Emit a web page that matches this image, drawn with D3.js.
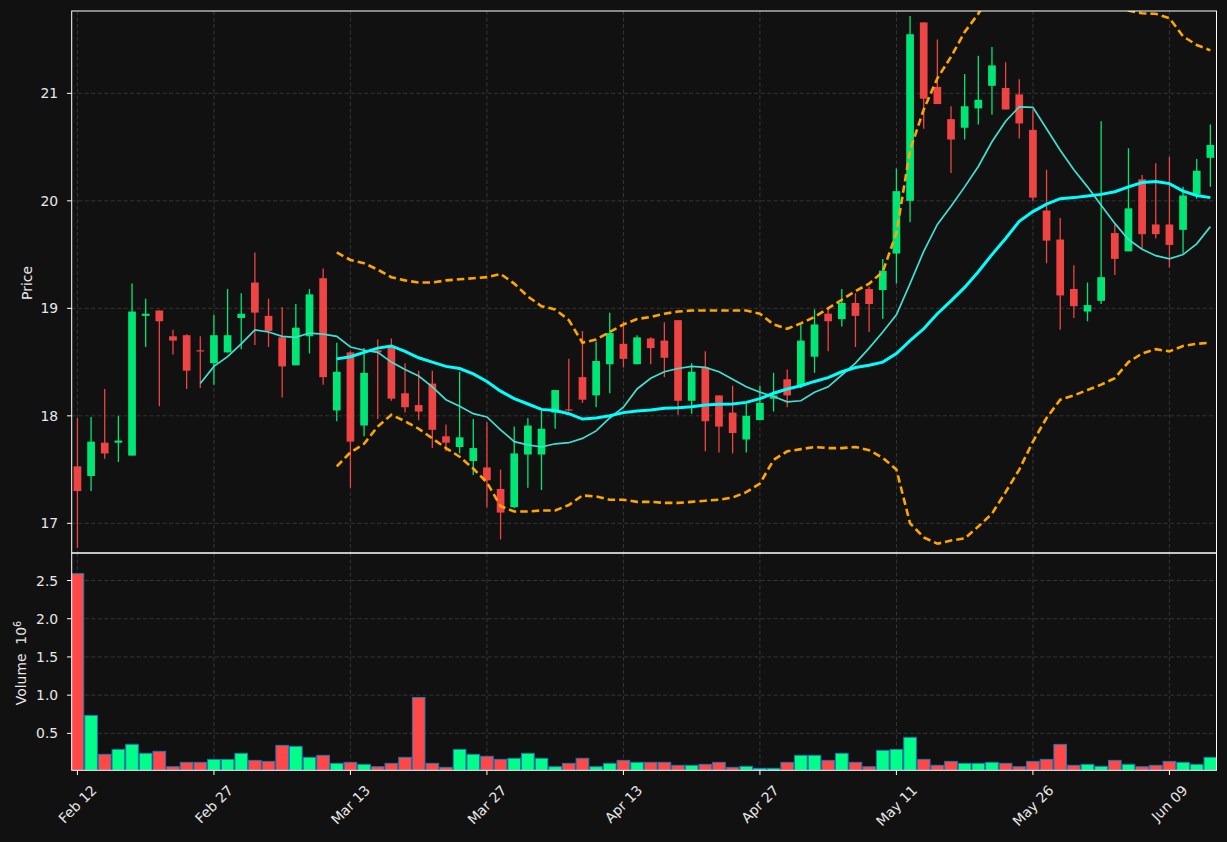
<!DOCTYPE html>
<html><head><meta charset="utf-8">
<script src="https://cdn.jsdelivr.net/npm/d3@7"></script>
<style>html,body{margin:0;padding:0;background:#111111;}svg{display:block;}</style>
</head><body>
<svg id="chart" width="1227" height="842"></svg>
<script>
// ---- data ----
const openP  = [17.53,17.44,17.75,17.75,17.63,18.93,18.98,18.74,18.75,18.61,18.49,18.59,18.91,19.24,18.93,18.73,18.47,18.74,19.28,18.05,18.59,17.91,18.61,18.65,18.21,18.10,18.30,17.81,17.71,17.58,17.52,17.32,17.15,17.64,17.64,18.03,18.06,18.36,18.19,18.48,18.67,18.48,18.72,18.70,18.89,18.14,18.45,18.19,18.03,17.78,17.96,18.16,18.34,18.28,18.55,18.95,18.90,19.05,19.18,19.17,19.51,20.00,21.66,21.06,20.76,20.68,20.86,21.07,21.05,20.99,20.66,19.91,19.64,19.18,18.97,19.07,19.70,19.53,20.20,19.78,19.78,19.73,20.06,20.40];
const highP  = [17.98,17.99,18.25,18.00,19.23,19.09,18.98,18.80,18.76,18.74,18.94,19.18,19.14,19.52,19.09,19.01,19.04,19.18,19.37,18.68,18.60,18.63,18.71,18.72,18.49,18.42,18.42,17.92,18.41,17.97,17.94,17.50,17.90,17.98,18.05,18.24,18.53,18.79,18.69,18.96,18.88,18.75,18.73,18.87,18.89,18.49,18.60,18.19,18.28,18.11,18.28,18.40,18.43,18.85,18.99,19.01,19.18,19.14,19.20,19.46,20.30,21.72,21.66,21.50,20.88,21.18,21.35,21.43,21.29,21.13,20.85,20.29,19.84,19.40,19.24,20.74,19.78,20.49,20.24,20.35,20.41,20.13,20.39,20.71];
const lowP   = [16.77,17.30,17.60,17.57,17.63,18.64,18.09,18.57,18.25,18.26,18.29,18.59,18.62,18.66,18.64,18.17,18.47,18.58,18.29,17.95,17.33,17.81,17.97,18.14,18.03,17.96,17.70,17.67,17.65,17.45,17.15,16.85,17.14,17.33,17.31,17.88,18.04,18.12,18.08,18.21,18.45,18.48,18.48,18.36,18.01,18.02,17.67,17.66,17.65,17.66,17.96,18.04,18.08,18.26,18.40,18.60,18.83,18.64,18.78,18.90,19.23,19.80,20.67,20.90,20.26,20.57,20.71,20.80,20.85,20.58,20.00,19.42,18.80,18.91,18.88,19.04,19.31,19.53,19.55,19.65,19.38,19.51,20.02,20.13];
const closeP = [17.30,17.76,17.65,17.77,18.97,18.95,18.88,18.70,18.42,18.60,18.75,18.75,18.95,18.96,18.79,18.46,18.82,19.13,18.36,18.41,17.76,18.40,18.59,18.16,18.08,18.04,17.87,17.75,17.80,17.70,17.40,17.10,17.65,17.91,17.88,18.24,18.05,18.15,18.51,18.77,18.53,18.73,18.63,18.54,18.14,18.41,17.95,17.90,17.84,18.00,18.12,18.19,18.19,18.70,18.85,18.88,19.05,18.93,19.04,19.35,20.09,21.55,20.95,20.90,20.57,20.88,20.94,21.26,20.85,20.72,20.03,19.63,19.12,19.02,19.03,19.29,19.46,19.93,19.69,19.69,19.59,20.05,20.28,20.52];
const volumeM = [2.59,0.735,0.226,0.291,0.356,0.239,0.265,0.064,0.121,0.121,0.16,0.16,0.239,0.147,0.134,0.343,0.33,0.187,0.213,0.108,0.121,0.095,0.064,0.108,0.187,0.97,0.108,0.056,0.291,0.226,0.20,0.16,0.174,0.239,0.174,0.064,0.108,0.174,0.064,0.108,0.147,0.121,0.121,0.121,0.082,0.082,0.095,0.121,0.056,0.069,0.043,0.043,0.121,0.213,0.213,0.147,0.239,0.121,0.064,0.278,0.291,0.448,0.16,0.082,0.134,0.108,0.108,0.121,0.108,0.064,0.134,0.16,0.356,0.082,0.095,0.069,0.147,0.095,0.064,0.082,0.134,0.121,0.095,0.187];
// moving average 10 (starts at index 9)
const ma10Start = 9;
const ma10 = [18.30,18.46,18.55,18.67,18.80,18.78,18.74,18.73,18.77,18.76,18.74,18.64,18.61,18.59,18.50,18.43,18.37,18.27,18.15,18.09,18.02,17.99,17.87,17.76,17.73,17.71,17.74,17.75,17.79,17.86,17.98,18.08,18.25,18.35,18.41,18.44,18.46,18.45,18.41,18.34,18.27,18.22,18.18,18.13,18.14,18.22,18.27,18.38,18.49,18.63,18.78,18.94,19.23,19.53,19.78,19.95,20.13,20.32,20.55,20.74,20.875,20.87,20.67,20.47,20.29,20.13,19.96,19.79,19.64,19.55,19.49,19.46,19.50,19.60,19.76];
// moving average 20 and Bollinger bands (start at index 19)
const ma20Start = 19;
const ma20 = [18.53,18.55,18.59,18.63,18.65,18.60,18.54,18.50,18.46,18.44,18.39,18.32,18.23,18.16,18.11,18.06,18.05,18.02,17.97,17.98,18.00,18.03,18.045,18.054,18.07,18.075,18.085,18.10,18.107,18.11,18.125,18.16,18.21,18.25,18.28,18.32,18.355,18.41,18.45,18.47,18.50,18.58,18.70,18.81,18.95,19.07,19.195,19.34,19.50,19.65,19.81,19.90,19.97,20.02,20.03,20.045,20.06,20.085,20.13,20.17,20.18,20.16,20.09,20.05,20.03];
const bbUpper = [19.52,19.45,19.42,19.36,19.29,19.26,19.24,19.24,19.26,19.27,19.28,19.29,19.32,19.23,19.11,19.02,18.99,18.89,18.68,18.71,18.78,18.85,18.90,18.92,18.95,18.97,18.98,18.98,18.98,18.98,18.98,18.95,18.85,18.81,18.86,18.92,19.00,19.08,19.16,19.23,19.34,19.70,20.47,20.85,21.14,21.34,21.57,21.74,21.95,22.10,22.20,22.28,22.30,22.25,22.15,22.05,21.95,21.85,21.77,21.745,21.74,21.70,21.53,21.45,21.40];
const bbLower = [17.53,17.66,17.74,17.90,18.01,17.95,17.88,17.79,17.70,17.62,17.51,17.38,17.16,17.11,17.11,17.12,17.12,17.17,17.26,17.25,17.22,17.22,17.20,17.20,17.19,17.19,17.20,17.21,17.22,17.24,17.29,17.37,17.59,17.67,17.69,17.71,17.70,17.70,17.71,17.68,17.61,17.50,17.00,16.87,16.81,16.84,16.86,16.97,17.09,17.29,17.50,17.76,17.98,18.15,18.19,18.24,18.29,18.35,18.50,18.58,18.62,18.60,18.65,18.67,18.68];
const tickIdx = [0,10,20,30,40,50,60,70,80];
const tickLabels = ["Feb 12","Feb 27","Mar 13","Mar 27","Apr 13","Apr 27","May 11","May 26","Jun 09"];
const priceTicks = [17,18,19,20,21];
const volTicks = [0.5,1.0,1.5,2.0,2.5];

// ---- layout ----
const L = 71.7, R = 1216.5, pTop = 11, pBot = 553, vTop = 553, vBot = 770.3;
const n = closeP.length;
const svg = d3.select("#chart");
svg.append("rect").attr("width",1227).attr("height",842).attr("fill","#111111");

const x = d3.scaleLinear().domain([-0.42, 83.45]).range([L, R]);
const yP = d3.scaleLinear().domain([16.724, 21.766]).range([pBot, pTop]);
const yV = d3.scaleLinear().domain([0.017, 2.86]).range([vBot, vTop]);
const step = x(1) - x(0);

const defs = svg.append("defs");
defs.append("clipPath").attr("id","clipP").append("rect").attr("x",L).attr("y",pTop).attr("width",R-L).attr("height",pBot-pTop);
defs.append("clipPath").attr("id","clipV").append("rect").attr("x",L).attr("y",vTop).attr("width",R-L).attr("height",vBot-vTop);

const gridColor = "#3a3a3a";
const textColor = "#e8e8e8";
const font = "'DejaVu Sans', sans-serif";

// grids
function vgrid(y0,y1){
  svg.append("g").selectAll("line").data(tickIdx).join("line")
    .attr("x1",d=>x(d)).attr("x2",d=>x(d)).attr("y1",y0).attr("y2",y1)
    .attr("stroke",gridColor).attr("stroke-width",0.9).attr("stroke-dasharray","4,2.5");
}
vgrid(pTop,pBot); vgrid(vTop,vBot);
svg.append("g").selectAll("line").data(priceTicks).join("line")
  .attr("x1",L).attr("x2",R).attr("y1",d=>yP(d)).attr("y2",d=>yP(d))
  .attr("stroke",gridColor).attr("stroke-width",0.9).attr("stroke-dasharray","4,2.5");
svg.append("g").selectAll("line").data(volTicks).join("line")
  .attr("x1",L).attr("x2",R).attr("y1",d=>yV(d)).attr("y2",d=>yV(d))
  .attr("stroke",gridColor).attr("stroke-width",0.9).attr("stroke-dasharray","4,2.5");

const upC = "#00e676", dnC = "#ef4444";
const upV = "#00ff88", dnV = "#ff4848";
const idx = d3.range(n);
const isUp = i => closeP[i] >= openP[i];

// volume
svg.append("g").attr("clip-path","url(#clipV)").selectAll("rect").data(idx).join("rect")
  .attr("x",i=>x(i)-step/2+0.5).attr("width",step-1)
  .attr("y",i=>yV(volumeM[i])).attr("height",i=>vBot-yV(volumeM[i]))
  .attr("fill",i=>isUp(i)?upV:dnV).attr("stroke","#1f77b4").attr("stroke-width",1);

// candles
const gc = svg.append("g").attr("clip-path","url(#clipP)");
gc.selectAll("line.w").data(idx).join("line").attr("class","w")
  .attr("x1",i=>x(i)).attr("x2",i=>x(i)).attr("y1",i=>yP(highP[i])).attr("y2",i=>yP(lowP[i]))
  .attr("stroke",i=>isUp(i)?upC:dnC).attr("stroke-width",1.3);
const bw = 7.7;
gc.selectAll("rect.b").data(idx).join("rect").attr("class","b")
  .attr("x",i=>x(i)-bw/2).attr("width",bw)
  .attr("y",i=>yP(Math.max(openP[i],closeP[i])))
  .attr("height",i=>Math.max(1.2, Math.abs(yP(openP[i])-yP(closeP[i]))))
  .attr("fill",i=>isUp(i)?upC:dnC);

// lines
function series(arr,start){ return arr.map((v,k)=>[start+k,v]); }
const line = d3.line().x(d=>x(d[0])).y(d=>yP(d[1]));
const gl = svg.append("g").attr("clip-path","url(#clipP)");
gl.append("path").attr("d",line(series(ma10,ma10Start))).attr("fill","none").attr("stroke","#40e0d0").attr("stroke-width",1.7);
gl.append("path").attr("d",line(series(ma20,ma20Start))).attr("fill","none").attr("stroke","#00ffff").attr("stroke-width",3);
gl.append("path").attr("d",line(series(bbUpper,ma20Start))).attr("fill","none").attr("stroke","#ffa500").attr("stroke-width",2.6).attr("stroke-dasharray","7.5,4");
gl.append("path").attr("d",line(series(bbLower,ma20Start))).attr("fill","none").attr("stroke","#ffa500").attr("stroke-width",2.6).attr("stroke-dasharray","7.5,4");

// frames
svg.append("rect").attr("x",L).attr("y",pTop).attr("width",R-L).attr("height",pBot-pTop).attr("fill","none").attr("stroke","#ffffff").attr("stroke-width",1);
svg.append("rect").attr("x",L).attr("y",vTop).attr("width",R-L).attr("height",vBot-vTop).attr("fill","none").attr("stroke","#ffffff").attr("stroke-width",1);

// y ticks
const gyp = svg.append("g");
priceTicks.forEach(t=>{
  gyp.append("line").attr("x1",L-4.7).attr("x2",L).attr("y1",yP(t)).attr("y2",yP(t)).attr("stroke","#ffffff");
  gyp.append("text").attr("x",L-13.5).attr("y",yP(t)).attr("dy","0.36em").attr("text-anchor","end")
    .attr("fill",textColor).attr("font-family",font).attr("font-size","13.9px").text(t);
});
volTicks.forEach(t=>{
  gyp.append("line").attr("x1",L-4.7).attr("x2",L).attr("y1",yV(t)).attr("y2",yV(t)).attr("stroke","#ffffff");
  gyp.append("text").attr("x",L-13.5).attr("y",yV(t)).attr("dy","0.36em").attr("text-anchor","end")
    .attr("fill",textColor).attr("font-family",font).attr("font-size","13.9px").text(t.toFixed(1));
});
// axis labels
svg.append("text").attr("transform","translate(32,283) rotate(-90)").attr("text-anchor","middle")
  .attr("fill",textColor).attr("font-family",font).attr("font-size","13.9px").text("Price");
const vl = svg.append("text").attr("transform","translate(26,663) rotate(-90)").attr("text-anchor","middle")
  .attr("fill",textColor).attr("font-family",font).attr("font-size","13.9px").style("white-space","pre");
vl.append("tspan").text("Volume\u00a0\u00a010");
vl.append("tspan").attr("dy","-0.55em").attr("font-size","9.7px").text("6");

// x ticks
const gx = svg.append("g");
tickIdx.forEach((t,k)=>{
  const xx = x(t);
  gx.append("line").attr("x1",xx).attr("x2",xx).attr("y1",vBot).attr("y2",vBot+4.7).attr("stroke","#ffffff");
  const tx = gx.append("text").attr("text-anchor","middle").attr("dominant-baseline","central")
    .attr("fill",textColor).attr("font-family",font).attr("font-size","13.9px").text(tickLabels[k]);
  const w = tx.node().getComputedTextLength();
  const h = 16;
  const cy = 782 + (w + h) / (2 * Math.SQRT2);
  tx.attr("transform",`translate(${xx},${cy}) rotate(-45)`);
});
</script>
</body></html>
